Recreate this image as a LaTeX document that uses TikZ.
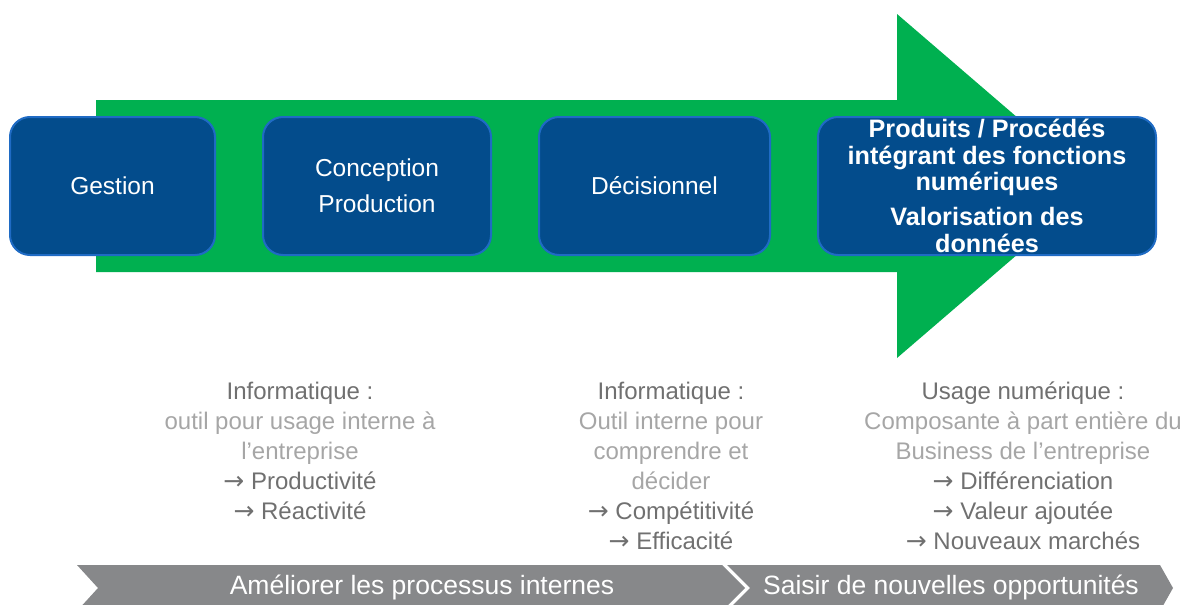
\documentclass[tikz,border=0pt]{standalone}
\usepackage{fontspec}
\setmainfont{Liberation Sans}
\newfontfamily\symfont{DejaVu Sans}
\usetikzlibrary{arrows.meta, positioning}

\definecolor{flowgreen}{HTML}{00B050}
\definecolor{boxblue}{HTML}{034C8C}
\definecolor{boxedge}{HTML}{1F6BC4}
\definecolor{bargray}{HTML}{87888A}
\definecolor{headgray}{HTML}{707070}
\definecolor{bodygray}{HTML}{A6A6A6}

\newcommand{\fleche}{{\symfont\fontsize{25}{30}\selectfont →}}

\tikzset{
	stagebox/.style={draw=boxedge, line width=2pt, fill=boxblue, rounded corners=20pt,
		text=white, align=center, inner sep=0pt, font=\fontsize{24.5}{36}\selectfont},
	gaintext/.style={anchor=north, align=center, inner sep=0pt, text=bodygray,
		font=\fontsize{24}{30}\selectfont},
	bartext/.style={text=white, inner sep=0pt, font=\fontsize{26.5}{30}\selectfont}
}

\begin{document}
\begin{tikzpicture}[x=1pt, y=-1pt]
			\clip (0,0) rectangle (1192,605);
			
			% Draw the big green arrow
			\fill[flowgreen] (96,100) -- (897,100) -- (897,14) -- (1097,186)
				-- (897,358) -- (897,272) -- (96,272) -- cycle;
			
			% Stages on the arrow
			\node[stagebox, minimum width=205, minimum height=138] (gestion) at (112.5,186) {Gestion};
			\node[stagebox, minimum width=228, minimum height=138] (conception) at (377,186) {Conception\\Production};
			\node[stagebox, minimum width=231, minimum height=138] (decision) at (654.5,186) {Décisionnel};
			\node[stagebox, minimum width=338, minimum height=138, font=\fontsize{25.2}{26.5}\selectfont\bfseries] (produits) at (987,186)
				{Produits / Procédés\\intégrant des fonctions\\numériques\\[8.5pt]Valorisation des\\données};
			
			% Texts under the arrow
			\node[gaintext] (info1) at (300,382) {\textcolor{headgray}{Informatique :}\\outil pour usage interne à\\l’entreprise\\
				\textcolor{headgray}{\fleche\ Productivité}\\\textcolor{headgray}{\fleche\ Réactivité}};
			\node[gaintext] (info2) at (671,382) {\textcolor{headgray}{Informatique :}\\Outil interne pour\\comprendre et\\décider\\
				\textcolor{headgray}{\fleche\ Compétitivité}\\\textcolor{headgray}{\fleche\ Efficacité}};
			\node[gaintext] (usage) at (1023,382) {\textcolor{headgray}{Usage numérique :}\\Composante à part entière du\\Business de l’entreprise\\
				\textcolor{headgray}{\fleche\ Différenciation}\\\textcolor{headgray}{\fleche\ Valeur ajoutée}\\\textcolor{headgray}{\fleche\ Nouveaux marchés}};
			
			% Gray chevrons at the bottom
			\fill[bargray] (77,565) -- (722,565) -- (745,588) -- (722,611) -- (77,611) -- (98,588) -- cycle;
			\fill[bargray] (727,565) -- (1160,565) -- (1173,588) -- (1160,611) -- (727,611) -- (750,588) -- cycle;
			\node[bartext] (interne) at (422,587) {Améliorer les processus internes};
			\node[bartext] (saisir) at (951,587) {Saisir de nouvelles opportunités};
	\end{tikzpicture}
\end{document}
